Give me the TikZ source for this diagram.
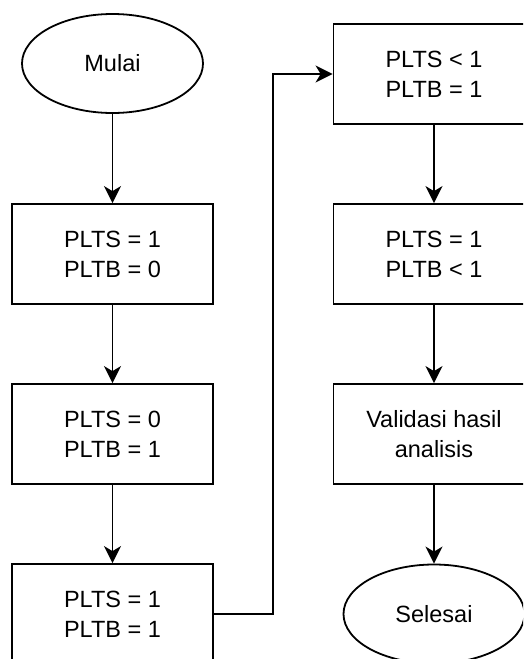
\documentclass[tikz,border=0pt]{standalone}
\usepackage{fontspec}
\setmainfont{Liberation Sans}
\usetikzlibrary{shapes.geometric,arrows.meta}
\tikzset{>={Stealth[length=17pt,width=17pt,inset=5pt]}}
\tikzset{
  kotak/.style={draw, line width=1.8pt, minimum width=201pt, minimum height=100pt,
                align=center, inner sep=0pt, font=\fontsize{23.5}{30}\selectfont},
  elips/.style={draw, ellipse, line width=1.8pt, minimum width=181pt, minimum height=99pt,
                inner sep=0pt, font=\fontsize{23.5}{30}\selectfont},
  panah/.style={->, line width=1.8pt}
}

\begin{document}
\begin{tikzpicture}[x=1pt,y=-1pt]
  \clip (0,0) rectangle (523,659);
  % kolom kiri
  \node[elips] (mulai) at (112.5,63.5) {Mulai};
  \node[kotak] (k1) at (112.5,254) {PLTS = 1\\PLTB = 0};
  \node[kotak] (k2) at (112.5,434) {PLTS = 0\\PLTB = 1};
  \node[kotak] (k3) at (112.5,614) {PLTS = 1\\PLTB = 1};
  % kolom kanan
  \node[kotak] (k4) at (434,74) {PLTS < 1\\PLTB = 1};
  \node[kotak] (k5) at (434,254) {PLTS = 1\\PLTB < 1};
  \node[kotak] (k6) at (434,434) {Validasi hasil\\analisis};
  \node[elips] (selesai) at (434,614) {Selesai};
  % titik belok
  \coordinate (belok) at (273,614);
  \draw[panah] (mulai) -- (k1);
  \draw[panah] (k1) -- (k2);
  \draw[panah] (k2) -- (k3);
  \draw[panah] (k3.east) -- (belok) |- (k4.west);
  \draw[panah] (k4) -- (k5);
  \draw[panah] (k5) -- (k6);
  \draw[panah] (k6) -- (selesai);
\end{tikzpicture}
\end{document}
